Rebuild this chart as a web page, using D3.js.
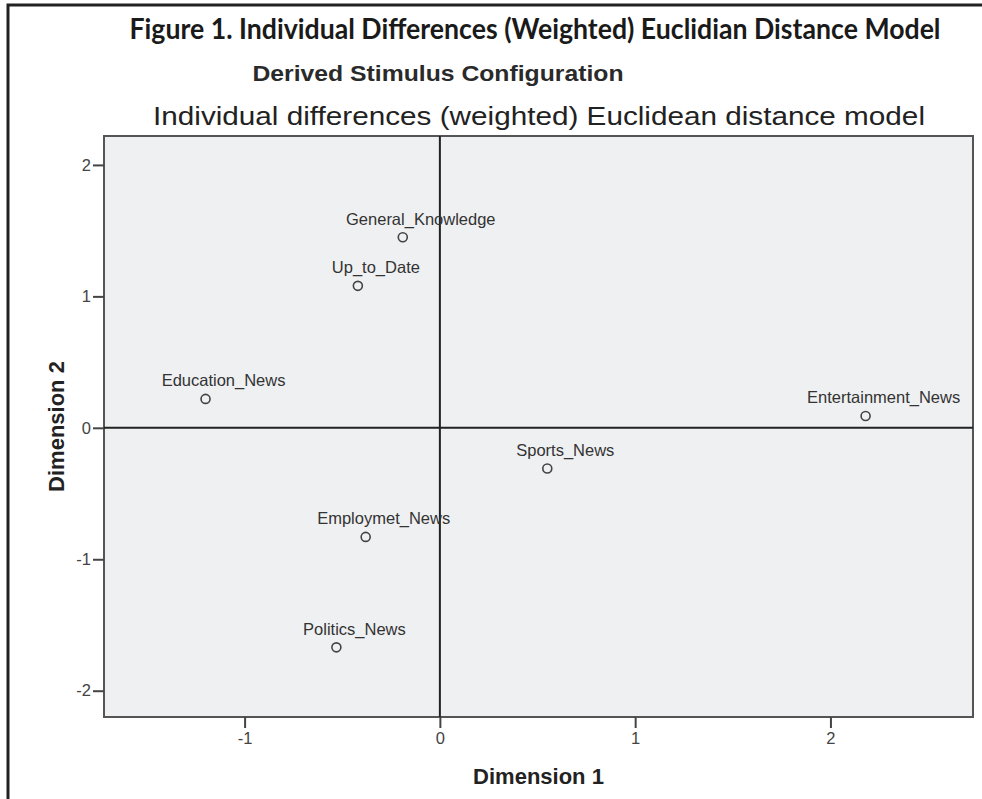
<!DOCTYPE html>
<html>
<head>
<meta charset="utf-8">
<script src="https://cdn.jsdelivr.net/npm/d3@7"></script>
<style>
  body { margin: 0; background: #fff; }
  svg { display: block; }
</style>
</head>
<body>
<svg id="chart"></svg>
<script>
// Stimulus coordinates
const names = ["General_Knowledge", "Up_to_Date", "Education_News", "Entertainment_News", "Sports_News", "Employmet_News", "Politics_News"];
const dim1 = [-0.19, -0.42, -1.20, 2.18, 0.55, -0.38, -0.53];
const dim2 = [1.45, 1.08, 0.22, 0.09, -0.31, -0.83, -1.67];
const xTicks = [-1, 0, 1, 2];
const yTicks = [-2, -1, 0, 1, 2];

const width = 982, height = 799;
const plot = { left: 104, right: 973, top: 136, bottom: 717 };

const svg = d3.select("#chart")
    .attr("width", width)
    .attr("height", height);

// outer frame (top and left edge only visible)
svg.append("path")
    .attr("d", `M8,${height} L8,5 L${width},5`)
    .attr("fill", "none")
    .attr("stroke", "#222")
    .attr("stroke-width", 3);

// titles
svg.append("text")
    .attr("x", 535).attr("y", 39)
    .attr("text-anchor", "middle")
    .attr("font-family", "Lato, 'Open Sans', sans-serif")
    .attr("font-weight", "bold")
    .attr("font-size", 28)
    .attr("fill", "#1a1a1a")
    .attr("textLength", 811)
    .attr("lengthAdjust", "spacingAndGlyphs")
    .text("Figure 1. Individual Differences (Weighted) Euclidian Distance Model");

svg.append("text")
    .attr("x", 438).attr("y", 81)
    .attr("text-anchor", "middle")
    .attr("font-family", "'Liberation Sans', Arial, sans-serif")
    .attr("font-weight", "bold")
    .attr("font-size", 22)
    .attr("fill", "#2a2a2a")
    .attr("textLength", 371)
    .attr("lengthAdjust", "spacingAndGlyphs")
    .text("Derived Stimulus Configuration");

svg.append("text")
    .attr("x", 539).attr("y", 125)
    .attr("text-anchor", "middle")
    .attr("font-family", "'Liberation Sans', Arial, sans-serif")
    .attr("font-size", 25)
    .attr("fill", "#222")
    .attr("textLength", 772)
    .attr("lengthAdjust", "spacingAndGlyphs")
    .text("Individual differences (weighted) Euclidean distance model");

// scales
const x = d3.scaleLinear().domain([-1.72, 2.73]).range([plot.left, plot.right]);
const y = d3.scaleLinear().domain([-2.2, 2.22]).range([plot.bottom, plot.top]);

// plot background
svg.append("rect")
    .attr("x", plot.left).attr("y", plot.top)
    .attr("width", plot.right - plot.left)
    .attr("height", plot.bottom - plot.top)
    .attr("fill", "#eff0f2")
    .attr("stroke", "#555")
    .attr("stroke-width", 2);

// reference lines at 0
svg.append("line")
    .attr("x1", x(0)).attr("x2", x(0))
    .attr("y1", plot.top).attr("y2", plot.bottom)
    .attr("stroke", "#222").attr("stroke-width", 2);
svg.append("line")
    .attr("x1", plot.left).attr("x2", plot.right)
    .attr("y1", y(0)).attr("y2", y(0))
    .attr("stroke", "#222").attr("stroke-width", 2);

// axes
const xAxis = svg.append("g")
    .attr("transform", `translate(0,${plot.bottom})`)
    .call(d3.axisBottom(x).tickValues(xTicks).tickSize(11).tickPadding(4).tickFormat(d3.format("d")));
const yAxis = svg.append("g")
    .attr("transform", `translate(${plot.left},0)`)
    .call(d3.axisLeft(y).tickValues(yTicks).tickSize(11).tickPadding(2).tickFormat(d3.format("d")));

[xAxis, yAxis].forEach(g => {
    g.select(".domain").remove();
    g.selectAll(".tick line").attr("stroke", "#444").attr("stroke-width", 2);
    g.selectAll(".tick text")
        .attr("font-family", "'Liberation Sans', Arial, sans-serif")
        .attr("font-size", 16.5)
        .attr("fill", "#444");
});
// d3 uses the unicode minus, SPSS uses a hyphen
xAxis.selectAll(".tick text").text(d => String(d));
yAxis.selectAll(".tick text").text(d => String(d));

// axis titles
svg.append("text")
    .attr("x", (plot.left + plot.right) / 2).attr("y", 784)
    .attr("text-anchor", "middle")
    .attr("font-family", "'Liberation Sans', Arial, sans-serif")
    .attr("font-weight", "bold")
    .attr("font-size", 22)
    .attr("fill", "#222")
    .text("Dimension 1");

svg.append("text")
    .attr("transform", `translate(64,${(plot.top + plot.bottom) / 2}) rotate(-90)`)
    .attr("text-anchor", "middle")
    .attr("font-family", "'Liberation Sans', Arial, sans-serif")
    .attr("font-weight", "bold")
    .attr("font-size", 22)
    .attr("fill", "#222")
    .text("Dimension 2");

// points
const points = names.map((n, i) => ({ name: n, d1: dim1[i], d2: dim2[i] }));

const pt = svg.selectAll(".pt")
    .data(points)
    .enter()
    .append("g")
    .attr("class", "pt")
    .attr("transform", d => `translate(${x(d.d1)},${y(d.d2)})`);

pt.append("circle")
    .attr("r", 4.5)
    .attr("fill", "none")
    .attr("stroke", "#444")
    .attr("stroke-width", 1.6);

pt.append("text")
    .attr("x", 18)
    .attr("y", -12.5)
    .attr("text-anchor", "middle")
    .attr("font-family", "'Liberation Sans', Arial, sans-serif")
    .attr("font-size", 16.5)
    .attr("fill", "#333")
    .text(d => d.name);
</script>
</body>
</html>
